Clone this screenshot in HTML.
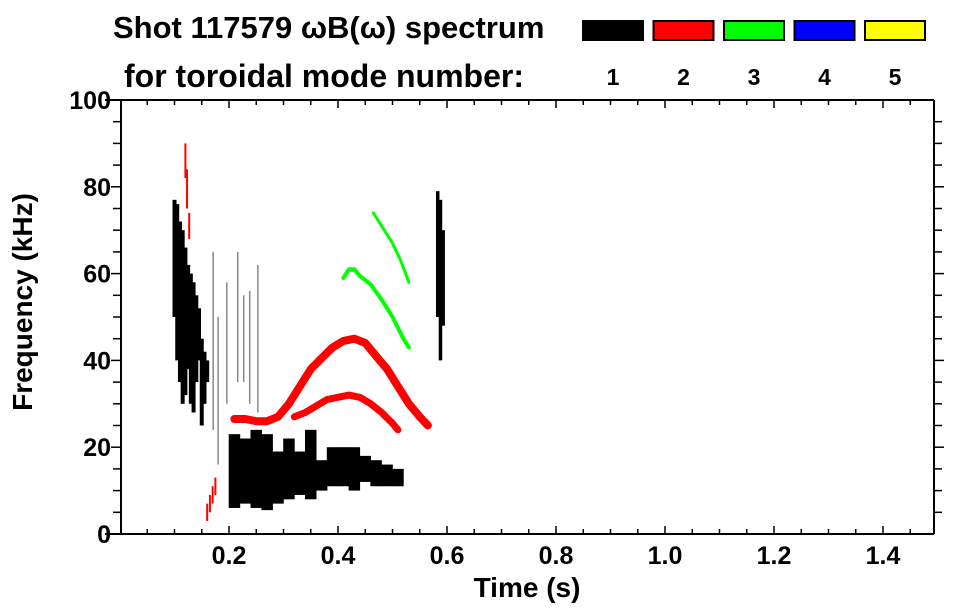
<!DOCTYPE html>
<html><head><meta charset="utf-8"><style>
html,body{margin:0;padding:0;background:#fff;}
svg{display:block;font-family:"Liberation Sans",sans-serif;font-weight:bold;}
</style></head><body>
<svg id="chart" width="963" height="615" viewBox="0 0 963 615" xmlns="http://www.w3.org/2000/svg">
<text x="113" y="38" font-size="31">Shot 117579 ωB(ω) spectrum</text>
<text x="124" y="87" font-size="32">for toroidal mode number:</text>
<g id="legend"></g>
<g id="marks"></g>
<g id="axes"></g>
<text x="527" y="597" font-size="28" text-anchor="middle">Time (s)</text>
<text transform="translate(32,302) rotate(-90)" font-size="28" text-anchor="middle">Frequency (kHz)</text>
</svg>
<script>
// ---- data ----
const modeNumbers = [1, 2, 3, 4, 5];
const modeColors = ["#000000", "#ff0000", "#00ff00", "#0000ff", "#ffff00"];
const xTickLabels = [0.2, 0.4, 0.6, 0.8, 1.0, 1.2, 1.4];
const yTickLabels = [0, 20, 40, 60, 80, 100];
// early mode-1 burst (time, low freq, high freq)
const burstT  = [0.100,0.105,0.110,0.115,0.120,0.125,0.130,0.135,0.140,0.145,0.150,0.155,0.160];
const burstLo = [50,40,35,30,32,38,30,28,35,40,25,30,35];
const burstHi = [77,76,72,70,66,62,60,58,55,52,45,42,40];
// main low-frequency mode-1 band
const bandT  = [0.21,0.23,0.25,0.27,0.29,0.30,0.31,0.33,0.35,0.37,0.39,0.41,0.43,0.45,0.47,0.49,0.51];
const bandLo = [6,7,6,5.5,7,8,8,9,8,10,11,11,10,12,11,11,11];
const bandHi = [23,22,24,23,19,15,22,19,24,17,20,20,20,18,17,16,15];
// late mode-1 burst
const lateT  = [0.583,0.588,0.593];
const lateLo = [50,40,48];
const lateHi = [79,77,70];
// thin vertical broadband lines (time, lo, hi)
const lineT  = [0.171,0.180,0.196,0.216,0.227,0.238,0.253];
const lineLo = [24,16,30,35,35,30,28];
const lineHi = [65,50,58,65,55,56,62];
// n=2 upper and lower branches
const red1T = [0.21,0.23,0.25,0.27,0.29,0.31,0.33,0.35,0.37,0.39,0.41,0.43,0.45,0.47,0.49,0.51,0.53,0.55,0.565];
const red1F = [26.5,26.5,26,26,27,30,34,38,40.5,43,44.5,45,44,41,38,34,30,27,25];
const red2T = [0.32,0.34,0.36,0.38,0.40,0.42,0.44,0.46,0.48,0.50,0.51];
const red2F = [27,28,29.5,31,31.5,32,31.5,30,28,25.5,24];
// n=3 branches
const green1T = [0.41,0.42,0.43,0.44,0.46,0.48,0.50,0.52,0.53];
const green1F = [59,61,61,59.5,57.5,54,50,45,43];
const green2T = [0.465,0.48,0.50,0.515,0.53];
const green2F = [74,71,67,63,58];
// scattered early n=2
const redBitT  = [0.120,0.123,0.127,0.160,0.165,0.170,0.175];
const redBitLo = [82,75,68,3,5,7,9];
const redBitHi = [90,84,74,7,9,11,13];

// ---- axis functions ----
const X0=120, XS=545, Y0=534, YS=4.34;
const xs = t => X0 + XS*t;
const ys = f => Y0 - YS*f;
const NS="http://www.w3.org/2000/svg";
const marks=document.getElementById('marks');
function mk(tag, attrs, parent){const e=document.createElementNS(NS,tag);for(const k in attrs)e.setAttribute(k,attrs[k]);parent.appendChild(e);return e;}

function cols(T,Lo,Hi,color,w,name){
  for(let i=0;i<T.length;i++){
    const r=mk('rect',{x:xs(T[i])-w/2,y:ys(Hi[i]),width:w,height:ys(Lo[i])-ys(Hi[i]),fill:color},marks);
    
    
  }
}
for(let i=0;i<lineT.length;i++){
  const l=mk('line',{x1:xs(lineT[i]),x2:xs(lineT[i]),y1:ys(lineHi[i]),y2:ys(lineLo[i]),stroke:'#888','stroke-width':1.5},marks);
  
  
}
cols(burstT,burstLo,burstHi,'#000',4,'mode1-early-burst');
cols(bandT,bandLo,bandHi,'#000',11.5,'mode1-low-band');
cols(lateT,lateLo,lateHi,'#000',3.5,'mode1-late-burst');
cols(redBitT,redBitLo,redBitHi,'#f00',2,'mode2-fragment');

function curve(T,F,color,width,name){
  let d='';
  for(let i=0;i<T.length;i++) d+=(i?'L':'M')+xs(T[i]).toFixed(1)+','+ys(F[i]).toFixed(1);
  const p=mk('path',{d:d,fill:'none',stroke:color,'stroke-width':width,'stroke-linejoin':'round','stroke-linecap':'round'},marks);
  
  
}
curve(red1T,red1F,'#f00',8,'mode2-upper-branch');
curve(red2T,red2F,'#f00',7,'mode2-lower-branch');
curve(green1T,green1F,'#0f0',4,'mode3-lower-branch');
curve(green2T,green2F,'#0f0',3,'mode3-upper-branch');

// legend
const lg=document.getElementById('legend');
for(let i=0;i<modeNumbers.length;i++){
  const x=582+70.5*i;
  const r=mk('rect',{x:x+1,y:21,width:60,height:19,fill:modeColors[i],stroke:'#000','stroke-width':2},lg);
  
  
  const t=mk('text',{x:x+31,y:85,'font-size':23,'text-anchor':'middle'},lg);
  t.textContent=modeNumbers[i];
  
  
}

// axes
const ax=document.getElementById('axes');
const L=121, R=934, T=100, B=534;
mk('line',{x1:105,x2:R,y1:T,y2:T,stroke:'#000','stroke-width':2},ax);
mk('line',{x1:105,x2:R,y1:B,y2:B,stroke:'#000','stroke-width':2},ax);
mk('line',{x1:L,x2:L,y1:T,y2:B,stroke:'#000','stroke-width':2},ax);
mk('line',{x1:R,x2:R,y1:T,y2:B,stroke:'#000','stroke-width':2},ax);
for(let k=1;k<=29;k++){
  const x=xs(k*0.05); if(x>R-1)break;
  const len=(k%4===0)?8:5;
  mk('line',{x1:x,x2:x,y1:B,y2:B-len,stroke:'#000','stroke-width':1.5},ax);
  mk('line',{x1:x,x2:x,y1:T,y2:T+len,stroke:'#000','stroke-width':1.5},ax);
}
for(let k=1;k<20;k++){
  const y=ys(k*5);
  const len=(k%4===0)?10:8;
  mk('line',{x1:L,x2:L-len,y1:y,y2:y,stroke:'#000','stroke-width':1.5},ax);
  mk('line',{x1:R,x2:R+len,y1:y,y2:y,stroke:'#000','stroke-width':1.5},ax);
}
xTickLabels.forEach(v=>{
  const t=mk('text',{x:xs(v),y:564,'font-size':25,'text-anchor':'middle'},ax);
  t.textContent=v.toFixed(1);
  
  
});
yTickLabels.forEach(v=>{
  const t=mk('text',{x:111,y:ys(v)+9,'font-size':25,'text-anchor':'end'},ax);
  t.textContent=v;
  
  
});
</script>
</body></html>
